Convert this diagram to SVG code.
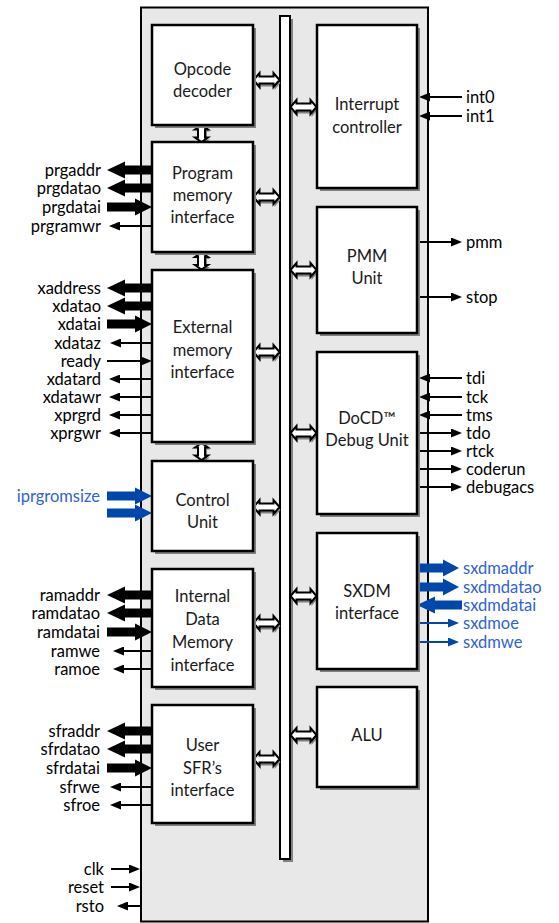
<svg xmlns="http://www.w3.org/2000/svg" width="559" height="923" viewBox="0 0 559 923">
<style>
text{font-family:Lato,"Open Sans","Liberation Sans",sans-serif;font-size:16.5px;fill:#000}
.bt{text-anchor:middle;fill:#1a1a1a}
.l{text-anchor:end}
.blue{fill:#2f63d6}
.box{fill:#fff;stroke:#000;stroke-width:2.5}
.sh{fill:#808080}
.thin{stroke:#000;stroke-width:2;fill:none;marker-end:url(#ah)}
.thinb{stroke:#0047ab;stroke-width:2;fill:none;marker-end:url(#ahb)}
.thick{fill:#000}
.thickb{fill:#0047ab}
.ha{fill:#fff;stroke:#000;stroke-width:2}
.has{fill:#808080}
</style>
<defs>
<marker id="ah" viewBox="0 0 11 9" refX="8" refY="4.5" markerWidth="11" markerHeight="9" markerUnits="userSpaceOnUse" orient="auto"><path d="M0,0 L11,4.5 L0,9 z" fill="#000"/></marker>
<marker id="ahb" viewBox="0 0 11 9" refX="8" refY="4.5" markerWidth="11" markerHeight="9" markerUnits="userSpaceOnUse" orient="auto"><path d="M0,0 L11,4.5 L0,9 z" fill="#0047ab"/></marker>
<path id="tl" d="M0,0 L18,-8.5 L18,-4.5 L45,-4.5 L45,4.5 L18,4.5 L18,8.5 Z"/>
<path id="tr" d="M0,0 L-17,-8.5 L-17,-4.5 L-45,-4.5 L-45,4.5 L-17,4.5 L-17,8.5 Z"/>
<path id="trs" d="M0,0 L-16,-8.5 L-16,-4.5 L-42,-4.5 L-42,4.5 L-16,4.5 L-16,8.5 Z"/>
<path id="hh" d="M-13,0 L-7,-7 L-7,-3.5 L7,-3.5 L7,-7 L13,0 L7,7 L7,3.5 L-7,3.5 L-7,7 Z"/>
<path id="hv" d="M0,-8.5 L-6.5,-4 L-3.5,-4 L-3.5,4 L-6.5,4 L0,8.5 L6.5,4 L3.5,4 L3.5,-4 L6.5,-4 Z"/>
</defs>
<rect x="141" y="7.5" width="287" height="914" fill="#e8e8e8" stroke="#000" stroke-width="2"/>
<g id="bus">
<rect x="283" y="19" width="10" height="843" class="sh"/>
<rect x="280" y="16" width="10" height="843" fill="#fff" stroke="#000" stroke-width="2"/>
</g>
<g id="connectors">
<g class="has">
<use href="#hh" x="267.5" y="83"/><use href="#hh" x="267.5" y="200"/><use href="#hh" x="267.5" y="355"/><use href="#hh" x="267.5" y="510"/><use href="#hh" x="267.5" y="626"/><use href="#hh" x="267.5" y="762"/>
<use href="#hh" x="304.5" y="110"/><use href="#hh" x="304.5" y="273"/><use href="#hh" x="304.5" y="436"/><use href="#hh" x="304.5" y="599"/><use href="#hh" x="304.5" y="738"/>
<use href="#hv" x="203.5" y="135.5"/><use href="#hv" x="203.5" y="263"/><use href="#hv" x="203.5" y="453.5"/>
</g>
<g class="ha">
<use href="#hh" x="266.5" y="80"/><use href="#hh" x="266.5" y="197"/><use href="#hh" x="266.5" y="352"/><use href="#hh" x="266.5" y="507"/><use href="#hh" x="266.5" y="623"/><use href="#hh" x="266.5" y="759"/>
<use href="#hh" x="303.5" y="107"/><use href="#hh" x="303.5" y="270"/><use href="#hh" x="303.5" y="433"/><use href="#hh" x="303.5" y="596"/><use href="#hh" x="303.5" y="735"/>
<use href="#hv" x="201.5" y="133.5"/><use href="#hv" x="201.5" y="261"/><use href="#hv" x="201.5" y="451.5"/>
</g>
<use href="#tl" x="107" y="170" class="thick"/>
<use href="#tl" x="107" y="188" class="thick"/>
<use href="#tr" x="152" y="207" class="thick"/>
<line x1="152" y1="226" x2="112" y2="226" class="thin"/>
<use href="#tl" x="107" y="288" class="thick"/>
<use href="#tl" x="107" y="306" class="thick"/>
<use href="#tr" x="152" y="324" class="thick"/>
<line x1="152" y1="343" x2="113" y2="343" class="thin"/>
<line x1="107" y1="361" x2="149" y2="361" class="thin"/>
<line x1="152" y1="379" x2="112" y2="379" class="thin"/>
<line x1="152" y1="397" x2="112" y2="397" class="thin"/>
<line x1="152" y1="415" x2="112" y2="415" class="thin"/>
<line x1="152" y1="433" x2="112" y2="433" class="thin"/>
<use href="#tr" x="152" y="496" class="thickb"/>
<use href="#tr" x="152" y="513" class="thickb"/>
<use href="#tl" x="107" y="595" class="thick"/>
<use href="#tl" x="107" y="613" class="thick"/>
<use href="#tr" x="152" y="632" class="thick"/>
<line x1="152" y1="651" x2="116" y2="651" class="thin"/>
<line x1="152" y1="669" x2="116" y2="669" class="thin"/>
<use href="#tl" x="107" y="731" class="thick"/>
<use href="#tl" x="107" y="749" class="thick"/>
<use href="#tr" x="152" y="768" class="thick"/>
<line x1="152" y1="787" x2="113" y2="787" class="thin"/>
<line x1="152" y1="805" x2="113" y2="805" class="thin"/>
<line x1="111" y1="869" x2="137" y2="869" class="thin"/>
<line x1="111" y1="887" x2="137" y2="887" class="thin"/>
<line x1="141" y1="906" x2="120" y2="906" class="thin"/>
<line x1="462" y1="97" x2="422" y2="97" class="thin"/>
<line x1="462" y1="116" x2="422" y2="116" class="thin"/>
<line x1="417" y1="242" x2="459" y2="242" class="thin"/>
<line x1="417" y1="297" x2="459" y2="297" class="thin"/>
<line x1="462" y1="378" x2="422" y2="378" class="thin"/>
<line x1="462" y1="397" x2="422" y2="397" class="thin"/>
<line x1="462" y1="415" x2="422" y2="415" class="thin"/>
<line x1="417" y1="433" x2="459" y2="433" class="thin"/>
<line x1="417" y1="451" x2="459" y2="451" class="thin"/>
<line x1="417" y1="469" x2="459" y2="469" class="thin"/>
<line x1="417" y1="487" x2="459" y2="487" class="thin"/>
<use href="#trs" x="459" y="568" class="thickb"/>
<use href="#trs" x="459" y="587" class="thickb"/>
<use href="#tl" x="417" y="605" class="thickb"/>
<line x1="417" y1="623" x2="456" y2="623" class="thinb"/>
<line x1="417" y1="642" x2="456" y2="642" class="thinb"/>
</g>
<g id="opcode">
<rect x="155" y="28" width="101" height="100" class="sh"/>
<rect x="152" y="25" width="101" height="100" class="box"/>
<text x="202.5" y="75" class="bt">Opcode</text>
<text x="202.5" y="97" class="bt">decoder</text>
</g>
<g id="progmem">
<rect x="155" y="145" width="101" height="110" class="sh"/>
<rect x="152" y="142" width="101" height="110" class="box"/>
<text x="202.5" y="179" class="bt">Program</text>
<text x="202.5" y="201" class="bt">memory</text>
<text x="202.5" y="223" class="bt">interface</text>
</g>
<g id="extmem">
<rect x="155" y="273" width="101" height="172" class="sh"/>
<rect x="152" y="270" width="101" height="172" class="box"/>
<text x="202.5" y="333" class="bt">External</text>
<text x="202.5" y="356" class="bt">memory</text>
<text x="202.5" y="378" class="bt">interface</text>
</g>
<g id="control">
<rect x="155" y="464" width="101" height="90" class="sh"/>
<rect x="152" y="461" width="101" height="90" class="box"/>
<text x="202.5" y="505.5" class="bt">Control</text>
<text x="202.5" y="528" class="bt">Unit</text>
</g>
<g id="intdata">
<rect x="155" y="572" width="101" height="118" class="sh"/>
<rect x="152" y="569" width="101" height="118" class="box"/>
<text x="202.5" y="602" class="bt">Internal</text>
<text x="202.5" y="625" class="bt">Data</text>
<text x="202.5" y="648" class="bt">Memory</text>
<text x="202.5" y="670.5" class="bt">interface</text>
</g>
<g id="sfr">
<rect x="155" y="708" width="101" height="118" class="sh"/>
<rect x="152" y="705" width="101" height="118" class="box"/>
<text x="202.5" y="750.5" class="bt">User</text>
<text x="202.5" y="773.5" class="bt">SFR’s</text>
<text x="202.5" y="796" class="bt">interface</text>
</g>
<g id="interrupt">
<rect x="320" y="28" width="100" height="163" class="sh"/>
<rect x="317" y="25" width="100" height="163" class="box"/>
<text x="367" y="110" class="bt">Interrupt</text>
<text x="367" y="132.5" class="bt">controller</text>
</g>
<g id="pmm">
<rect x="320" y="210" width="100" height="126" class="sh"/>
<rect x="317" y="207" width="100" height="126" class="box"/>
<text x="367" y="261.5" class="bt">PMM</text>
<text x="367" y="284" class="bt">Unit</text>
</g>
<g id="docd">
<rect x="320" y="355" width="100" height="162" class="sh"/>
<rect x="317" y="352" width="100" height="162" class="box"/>
<text x="367" y="424" class="bt">DoCD™</text>
<text x="367" y="446" class="bt">Debug Unit</text>
</g>
<g id="sxdm">
<rect x="320" y="536" width="100" height="136" class="sh"/>
<rect x="317" y="533" width="100" height="136" class="box"/>
<text x="367" y="596.5" class="bt">SXDM</text>
<text x="367" y="619" class="bt">interface</text>
</g>
<g id="alu">
<rect x="320" y="690" width="100" height="100" class="sh"/>
<rect x="317" y="687" width="100" height="100" class="box"/>
<text x="367" y="740.5" class="bt">ALU</text>
</g>
<g id="labels">
<text x="101" y="176" class="l">prgaddr</text>
<text x="101" y="194" class="l">prgdatao</text>
<text x="101" y="213" class="l">prgdatai</text>
<text x="101" y="232" class="l">prgramwr</text>
<text x="101" y="294" class="l">xaddress</text>
<text x="101" y="312" class="l">xdatao</text>
<text x="101" y="330" class="l">xdatai</text>
<text x="101" y="349" class="l">xdataz</text>
<text x="101" y="367" class="l">ready</text>
<text x="101" y="385" class="l">xdatard</text>
<text x="101" y="403" class="l">xdatawr</text>
<text x="101" y="421" class="l">xprgrd</text>
<text x="101" y="439" class="l">xprgwr</text>
<text x="100" y="502" class="l blue">iprgromsize</text>
<text x="100" y="601" class="l">ramaddr</text>
<text x="100" y="619" class="l">ramdatao</text>
<text x="100" y="638" class="l">ramdatai</text>
<text x="100" y="657" class="l">ramwe</text>
<text x="100" y="675" class="l">ramoe</text>
<text x="100" y="737" class="l">sfraddr</text>
<text x="100" y="755" class="l">sfrdatao</text>
<text x="100" y="774" class="l">sfrdatai</text>
<text x="100" y="793" class="l">sfrwe</text>
<text x="100" y="811" class="l">sfroe</text>
<text x="104" y="875" class="l">clk</text>
<text x="104" y="893" class="l">reset</text>
<text x="104" y="912" class="l">rsto</text>
<text x="466" y="103">int0</text>
<text x="466" y="122">int1</text>
<text x="466" y="248">pmm</text>
<text x="466" y="303">stop</text>
<text x="466" y="384">tdi</text>
<text x="466" y="403">tck</text>
<text x="466" y="421">tms</text>
<text x="466" y="439">tdo</text>
<text x="466" y="457">rtck</text>
<text x="466" y="475">coderun</text>
<text x="466" y="493">debugacs</text>
<text x="463" y="574" class="blue">sxdmaddr</text>
<text x="463" y="593" class="blue">sxdmdatao</text>
<text x="463" y="611" class="blue">sxdmdatai</text>
<text x="463" y="629" class="blue">sxdmoe</text>
<text x="463" y="648" class="blue">sxdmwe</text>
</g>
</svg>
